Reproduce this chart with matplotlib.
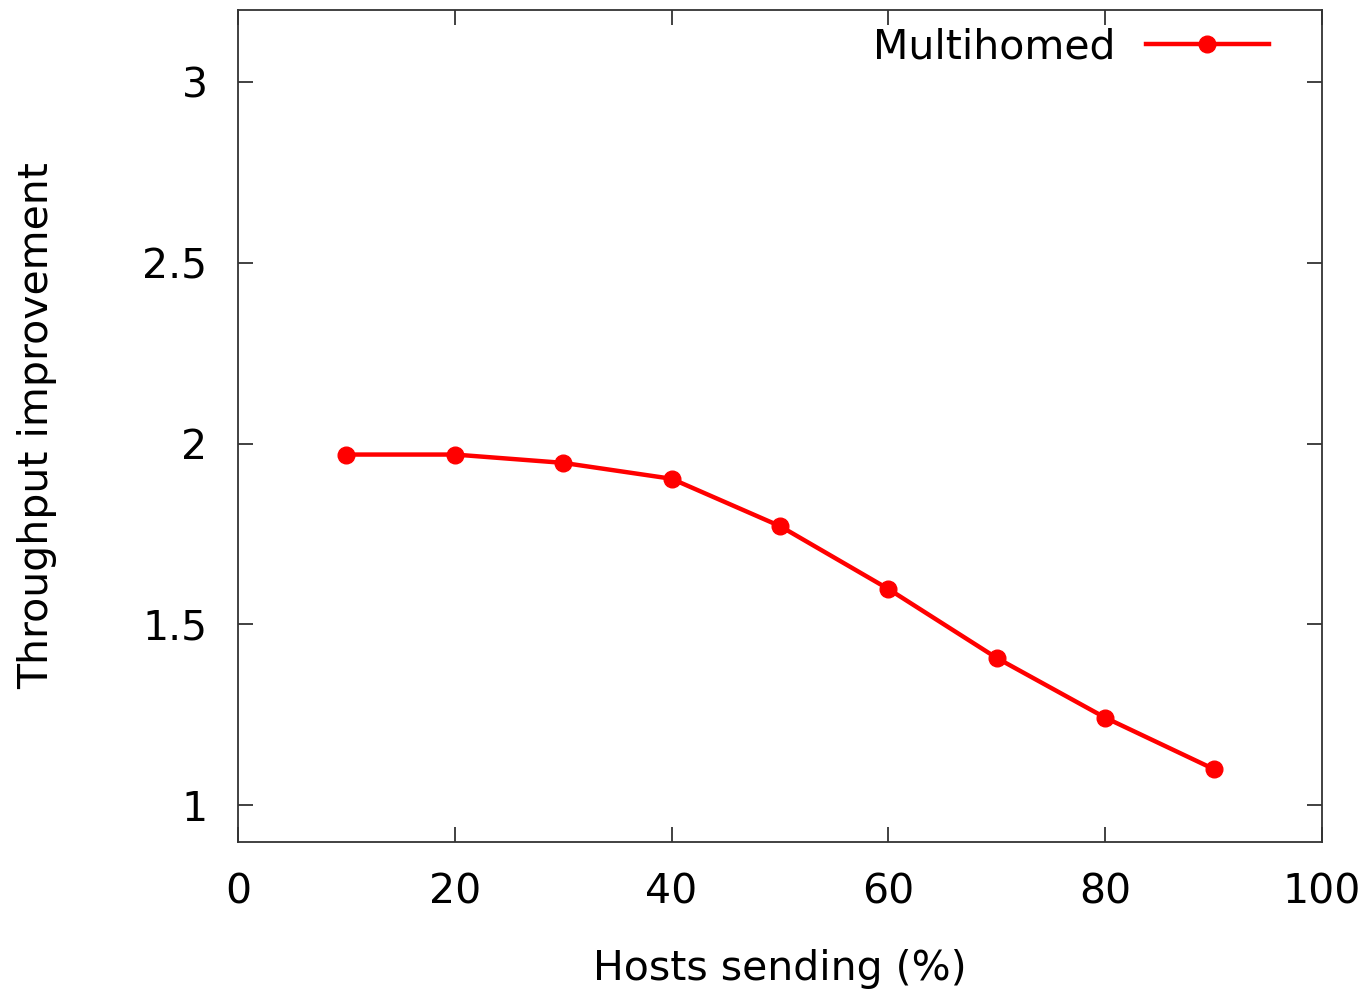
import matplotlib
matplotlib.use("Agg")
import matplotlib.pyplot as plt

# Hosts sending (%) vs throughput improvement
hosts_pct = [10, 20, 30, 40, 50, 60, 70, 80, 90]
improvement = [1.97, 1.97, 1.947, 1.903, 1.772, 1.598, 1.407, 1.242, 1.10]

x_ticks = [0, 20, 40, 60, 80, 100]
y_ticks = [1, 1.5, 2, 2.5, 3]
y_tick_labels = ["1", "1.5", "2", "2.5", "3"]

plt.rcParams["font.family"] = ["DejaVu Sans"]
fs = 29.5

fig = plt.figure(figsize=(13.66, 9.93), dpi=100)
ax = fig.add_axes([238 / 1366, 1 - 842 / 993, (1322 - 238) / 1366, (842 - 10) / 993])

ax.plot(hosts_pct, improvement, color="#ff0000", lw=3.2, marker="o",
        markersize=12, label="Multihomed")

ax.set_xlim(0, 100)
ax.set_ylim(0.898, 3.2)
ax.set_xticks(x_ticks)
ax.set_yticks(y_ticks)
ax.set_yticklabels(y_tick_labels)

for side in ax.spines.values():
    side.set_color("#333333")
    side.set_linewidth(1.3)
ax.tick_params(direction="in", length=11, width=1.3, color="#333333",
               top=True, right=True, labelsize=fs)
ax.tick_params(axis="x", pad=22)
ax.tick_params(axis="y", pad=22)

ax.set_xlabel("Hosts sending (%)", fontsize=fs, labelpad=26)
ax.set_ylabel("Throughput improvement", fontsize=fs, labelpad=61)

ax.legend(loc="upper right", bbox_to_anchor=(0.985, 1.023), frameon=False,
          markerfirst=False, handlelength=3.0, handletextpad=0.75, fontsize=fs)

fig.savefig("out.png", dpi=100)
